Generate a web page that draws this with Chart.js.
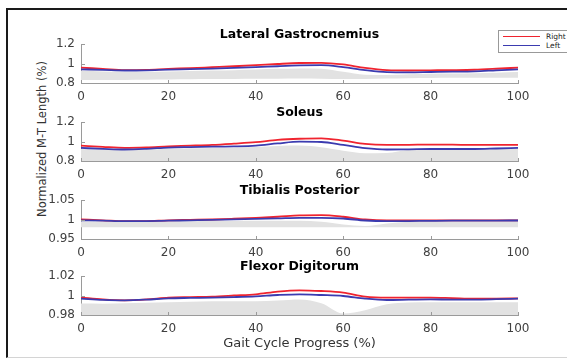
<!DOCTYPE html>
<html>
<head>
<meta charset="utf-8">
<script src="https://cdn.jsdelivr.net/npm/chart.js@4.4.0/dist/chart.umd.min.js"></script>
<style>
  html, body { margin: 0; padding: 0; background: #fff; overflow: hidden; }
  body { width: 567px; height: 358px; position: relative; font-family: 'DejaVu Sans', sans-serif; }
  #frame { position: absolute; left: 6px; top: 8px; width: 600px; height: 347px;
           border-top: 2px solid #1a1a1a; border-left: 2px solid #1a1a1a; border-bottom: 1px solid #d4d4d4; }
  .panel { position: absolute; left: 0; }
  #ylabel { position: absolute; left: 42px; top: 139px; transform: translate(-50%, -50%) rotate(-90deg);
            white-space: nowrap; font-size: 11.5px; color: #333; }
  #legend { position: absolute; left: 498px; top: 30px; width: 80px; height: 21px;
            border: 1px solid #999; background: #fff; font-size: 7.5px; color: #222; }
  #legend .sw { position: absolute; left: 4px; width: 37px; height: 0; border-top: 1.5px solid; }
  #legend .lb { position: absolute; left: 47px; line-height: 9px; }
</style>
</head>
<body>
<div id="frame"></div>
<div id="ylabel">Normalized M-T Length (%)</div>

<script>
// gait cycle samples (%)
const xs = [0, 5, 10, 15, 20, 25, 30, 35, 40, 45, 50, 55, 60, 65, 70, 75, 80, 85, 90, 95, 100];
const xTicks = [0, 20, 40, 60, 80, 100];
const xLabel = 'Gait Cycle Progress (%)';
const seriesNames = ['Right', 'Left'];
const titles = ['Lateral Gastrocnemius', 'Soleus', 'Tibialis Posterior', 'Flexor Digitorum'];

// Lateral Gastrocnemius
const lgRight = [0.958, 0.945, 0.932, 0.935, 0.945, 0.952, 0.962, 0.972, 0.983, 0.995, 1.005, 1.007, 0.99, 0.955, 0.932, 0.928, 0.93, 0.932, 0.936, 0.946, 0.958];
const lgLeft  = [0.94, 0.935, 0.928, 0.93, 0.937, 0.942, 0.948, 0.955, 0.962, 0.972, 0.98, 0.983, 0.963, 0.932, 0.912, 0.91, 0.913, 0.916, 0.92, 0.93, 0.94];
const lgHi    = [0.925, 0.918, 0.912, 0.912, 0.918, 0.922, 0.928, 0.932, 0.938, 0.945, 0.95, 0.945, 0.915, 0.885, 0.882, 0.89, 0.895, 0.897, 0.9, 0.905, 0.912];
const lgLo    = [0.83, 0.83, 0.832, 0.834, 0.836, 0.838, 0.84, 0.842, 0.843, 0.844, 0.845, 0.843, 0.84, 0.842, 0.846, 0.85, 0.852, 0.853, 0.854, 0.855, 0.855];
const lgTicks = [0.8, 1, 1.2];

// Soleus
const solRight = [0.958, 0.945, 0.935, 0.94, 0.95, 0.957, 0.965, 0.978, 0.993, 1.016, 1.028, 1.033, 1.01, 0.975, 0.965, 0.966, 0.968, 0.967, 0.965, 0.965, 0.965];
const solLeft  = [0.934, 0.925, 0.918, 0.925, 0.938, 0.943, 0.947, 0.95, 0.958, 0.98, 0.998, 0.995, 0.965, 0.932, 0.918, 0.92, 0.923, 0.923, 0.923, 0.928, 0.934];
const solHi    = [0.923, 0.915, 0.91, 0.915, 0.925, 0.93, 0.933, 0.937, 0.943, 0.955, 0.958, 0.94, 0.905, 0.88, 0.882, 0.915, 0.922, 0.923, 0.923, 0.925, 0.928];
const solLo    = [0.8, 0.8, 0.8, 0.8, 0.8, 0.8, 0.8, 0.8, 0.8, 0.8, 0.8, 0.8, 0.8, 0.8, 0.8, 0.8, 0.8, 0.8, 0.8, 0.8, 0.8];
const solTicks = [0.8, 1, 1.2];

// Tibialis Posterior
const tpRight = [1.0, 0.998, 0.9956, 0.996, 0.998, 0.999, 1.0, 1.002, 1.0044, 1.007, 1.0104, 1.011, 1.007, 1.0, 0.9974, 0.9975, 0.998, 0.998, 0.998, 0.998, 0.998];
const tpLeft  = [0.998, 0.997, 0.9956, 0.996, 0.997, 0.998, 0.999, 1.0005, 1.0018, 1.003, 1.0044, 1.0044, 1.0026, 0.9974, 0.9956, 0.996, 0.9966, 0.997, 0.997, 0.9972, 0.9975];
const tpHi    = [0.995, 0.9945, 0.994, 0.9945, 0.995, 0.9955, 0.996, 0.9962, 0.9965, 0.997, 0.9965, 0.994, 0.987, 0.9835, 0.99, 0.994, 0.995, 0.995, 0.995, 0.995, 0.995];
const tpLo    = [0.98, 0.98, 0.98, 0.98, 0.98, 0.98, 0.98, 0.98, 0.98, 0.98, 0.98, 0.98, 0.98, 0.98, 0.98, 0.98, 0.98, 0.98, 0.98, 0.98, 0.98];
const tpTicks = [0.95, 1, 1.05];

// Flexor Digitorum
const fdRight = [0.9979, 0.996, 0.9951, 0.996, 0.9978, 0.9984, 0.9989, 1.0, 1.0012, 1.004, 1.0053, 1.0046, 1.003, 0.9989, 0.9978, 0.9978, 0.9978, 0.9973, 0.9968, 0.9968, 0.997];
const fdLeft  = [0.9968, 0.9956, 0.9951, 0.9958, 0.9971, 0.9975, 0.9978, 0.9984, 0.9992, 1.0005, 1.0012, 1.0005, 0.9995, 0.9968, 0.9954, 0.9957, 0.996, 0.9958, 0.9958, 0.9962, 0.9968];
const fdHi    = [0.9917, 0.9915, 0.992, 0.9925, 0.993, 0.9935, 0.994, 0.994, 0.9942, 0.995, 0.996, 0.992, 0.9815, 0.985, 0.991, 0.9927, 0.993, 0.993, 0.993, 0.993, 0.993];
const fdLo    = [0.98, 0.98, 0.98, 0.98, 0.98, 0.98, 0.98, 0.98, 0.98, 0.98, 0.98, 0.98, 0.98, 0.98, 0.98, 0.98, 0.98, 0.98, 0.98, 0.98, 0.98];
const fdTicks = [0.98, 1, 1.02];

const RED = '#f0242f';
const BLUE = '#3b3bb0';
const GRAY = '#e2e2e2';
const AXIS = '#9a9a9a';
const TICKTXT = '#404040';
const FONT = "'DejaVu Sans', sans-serif";

// layout
const areaTops = [44, 122, 200, 276];
const AREA_H = 39;
const TITLE_H = 17;
const PAD_L = 41, PAD_R = 49;

const pts = arr => arr.map((v, i) => ({ x: xs[i], y: v }));

// MATLAB style inward tick marks
const innerTicks = {
  id: 'innerTicks',
  afterDraw(chart) {
    const { ctx, chartArea: a, scales: { x, y } } = chart;
    ctx.save();
    ctx.strokeStyle = AXIS;
    ctx.lineWidth = 1;
    ctx.beginPath();
    x.ticks.forEach(t => {
      const px = Math.round(x.getPixelForValue(t.value)) + 0.5;
      ctx.moveTo(px, a.bottom);
      ctx.lineTo(px, a.bottom - 3);
    });
    y.ticks.forEach(t => {
      const py = Math.round(y.getPixelForValue(t.value)) + 0.5;
      ctx.moveTo(a.left, py);
      ctx.lineTo(a.left + 4, py);
    });
    ctx.stroke();
    ctx.restore();
  }
};

function makePanel(i, right, left, hi, lo, yTicks, withXLabel) {
  const xAxisH = withXLabel ? 37 : 22;
  const h = TITLE_H + AREA_H + xAxisH;
  const div = document.createElement('div');
  div.className = 'panel';
  div.style.top = (areaTops[i] - TITLE_H) + 'px';
  const cv = document.createElement('canvas');
  cv.width = 567;
  cv.height = h;
  div.appendChild(cv);
  document.body.appendChild(div);

  const line = { pointRadius: 0, borderWidth: 1.8, fill: false, cubicInterpolationMode: 'monotone' };

  new Chart(cv, {
    type: 'line',
    data: {
      datasets: [
        { ...line, label: seriesNames[1], data: pts(left), borderColor: BLUE, order: 0 },
        { ...line, label: seriesNames[0], data: pts(right), borderColor: RED, order: 1 },
        { ...line, label: 'range', data: pts(hi), borderWidth: 0, borderColor: 'rgba(0,0,0,0)',
          backgroundColor: GRAY, fill: '+1', order: 2 },
        { ...line, label: 'rangeLow', data: pts(lo), borderWidth: 0, borderColor: 'rgba(0,0,0,0)', order: 3 }
      ]
    },
    options: {
      responsive: false,
      animation: false,
      events: [],
      layout: { padding: { left: PAD_L, right: PAD_R, top: 0, bottom: 0 } },
      plugins: {
        legend: { display: false },
        tooltip: { enabled: false },
        title: {
          display: true,
          text: titles[i],
          fullSize: false,
          color: '#000',
          font: { family: FONT, size: 12.5, weight: 'bold' },
          padding: { top: 0, bottom: 2 }
        }
      },
      scales: {
        x: {
          type: 'linear',
          min: xTicks[0],
          max: xTicks[xTicks.length - 1],
          afterBuildTicks: s => { s.ticks = xTicks.map(v => ({ value: v })); },
          afterFit: s => { s.height = xAxisH; },
          grid: { display: false, drawTicks: false },
          border: { display: true, color: AXIS, width: 1 },
          ticks: { padding: 7, color: TICKTXT, font: { family: FONT, size: 12 },
                   maxRotation: 0, autoSkip: false, callback: v => String(v) },
          title: withXLabel
            ? { display: true, text: xLabel, color: '#333', font: { family: FONT, size: 13 },
                padding: { top: 0, bottom: 1 } }
            : { display: false }
        },
        y: {
          type: 'linear',
          min: yTicks[0],
          max: yTicks[yTicks.length - 1],
          afterBuildTicks: s => { s.ticks = yTicks.map(v => ({ value: v })); },
          afterFit: s => { s.width = 40; },
          grid: { display: false, drawTicks: false },
          border: { display: true, color: AXIS, width: 1 },
          ticks: { padding: 6, color: TICKTXT, font: { family: FONT, size: 12 }, callback: v => String(v) }
        }
      }
    },
    plugins: [innerTicks]
  });
}

makePanel(0, lgRight, lgLeft, lgHi, lgLo, lgTicks, false);
makePanel(1, solRight, solLeft, solHi, solLo, solTicks, false);
makePanel(2, tpRight, tpLeft, tpHi, tpLo, tpTicks, false);
makePanel(3, fdRight, fdLeft, fdHi, fdLo, fdTicks, true);

// legend box (top right, clipped by the page edge like the reference)
const legend = document.createElement('div');
legend.id = 'legend';
[RED, BLUE].forEach((c, k) => {
  const sw = document.createElement('div');
  sw.className = 'sw';
  sw.style.borderColor = c;
  sw.style.top = (5 + k * 9) + 'px';
  const lb = document.createElement('div');
  lb.className = 'lb';
  lb.style.top = (1 + k * 9) + 'px';
  lb.textContent = seriesNames[k];
  legend.appendChild(sw);
  legend.appendChild(lb);
});
document.body.appendChild(legend);
</script>
</body>
</html>
